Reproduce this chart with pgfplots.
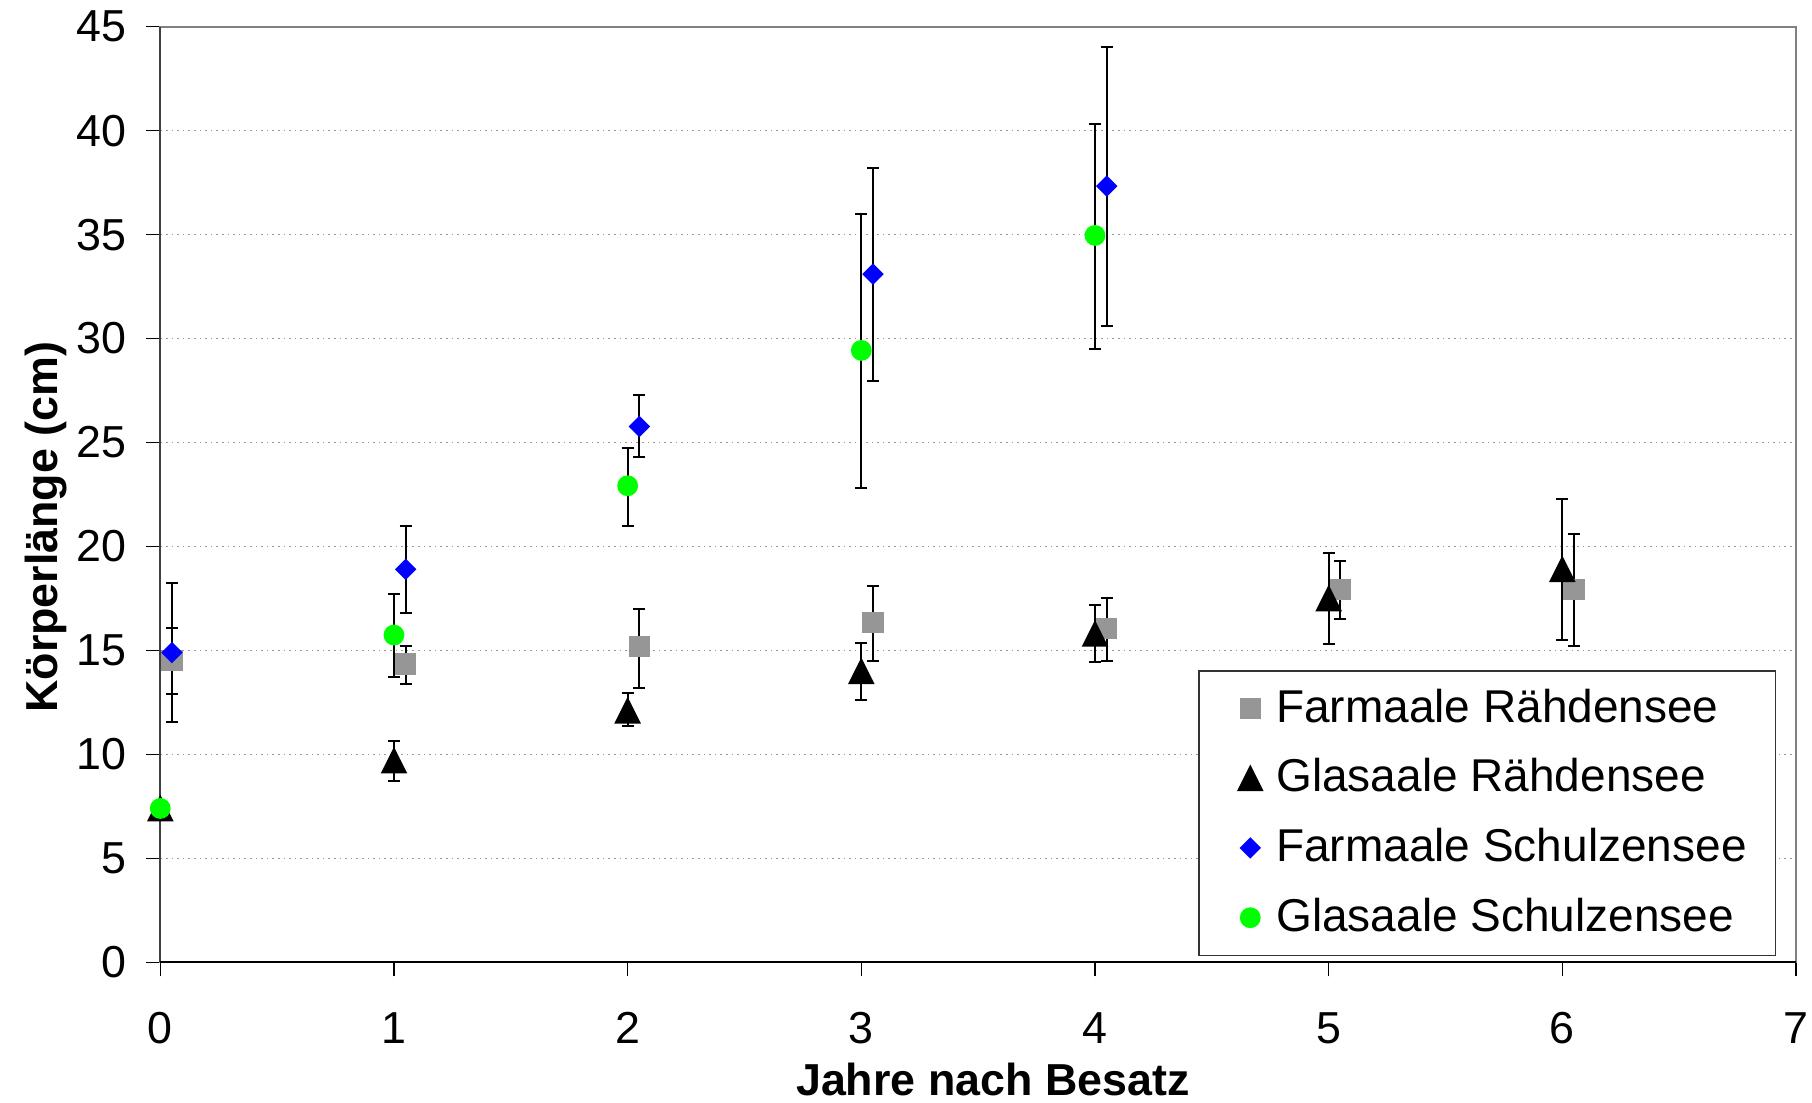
\documentclass[border=0pt]{standalone}
\usepackage{pgfplots}
\pgfplotsset{compat=1.18}
\usepackage{pgfplotstable}
\usepackage{fontspec}
\setmainfont{Liberation Sans}

\definecolor{fgray}{RGB}{150,150,150}
\definecolor{fblue}{RGB}{0,0,255}
\definecolor{fgreen}{RGB}{0,255,0}

% Excel-like marks: triangle and diamond centred on their box
\pgfdeclareplotmark{xtri}{%
  \pgfpathmoveto{\pgfqpoint{0pt}{\pgfplotmarksize}}%
  \pgfpathlineto{\pgfqpoint{\pgfplotmarksize}{-\pgfplotmarksize}}%
  \pgfpathlineto{\pgfqpoint{-\pgfplotmarksize}{-\pgfplotmarksize}}%
  \pgfpathclose\pgfusepathqfillstroke}
\pgfdeclareplotmark{xdia}{%
  \pgfpathmoveto{\pgfqpoint{0pt}{\pgfplotmarksize}}%
  \pgfpathlineto{\pgfqpoint{\pgfplotmarksize}{0pt}}%
  \pgfpathlineto{\pgfqpoint{0pt}{-\pgfplotmarksize}}%
  \pgfpathlineto{\pgfqpoint{-\pgfplotmarksize}{0pt}}%
  \pgfpathclose\pgfusepathqfillstroke}

% x, mean, upper and lower end of error bar
\pgfplotstableread{
x     y      hi     lo
0.05  14.5   16.1   12.9
1.05  14.35  15.2   13.4
2.05  15.2   17.0   13.2
3.05  16.35  18.1   14.5
4.05  16.05  17.5   14.5
5.05  17.95  19.3   16.5
6.05  17.95  20.6   15.2
}\farmR
\pgfplotstableread{
x  y      hi     lo
0  7.4    7.4    7.4
1  9.7    10.65  8.7
2  12.1   12.95  11.35
3  14.0   15.37  12.6
4  15.8   17.17  14.42
5  17.5   19.7   15.3
6  18.9   22.28  15.5
}\glasR
\pgfplotstableread{
x     y      hi     lo
0.05  14.9   18.22  11.58
1.05  18.9   21.0   16.82
2.05  25.77  27.27  24.28
3.05  33.1   38.2   27.97
4.05  37.33  44.0   30.6
}\farmS
\pgfplotstableread{
x  y      hi     lo
0  7.4    7.4    7.4
1  15.74  17.73  13.72
2  22.92  24.76  20.99
3  29.43  36.0   22.8
4  34.96  40.31  29.48
}\glasS

\pgfplotsset{
  errb/.style={error bars/.cd, y dir=both, y explicit,
    error bar style={black, line width=0.5pt},
    error mark=-,
    error mark options={black, rotate=90, mark size=1.5pt, line width=0.5pt}},
}

\begin{document}
\begin{tikzpicture}
\begin{axis}[
  scale only axis,
  width=408.9pt, height=233.9pt,
  xmin=0, xmax=7, ymin=0, ymax=45,
  xtick={0,1,...,7}, ytick={0,5,...,45},
  xtick pos=bottom, ytick pos=left,
  tick align=outside, major tick length=3.5pt,
  tick style={black, line width=0.4pt},
  axis line style={draw=gray, line width=0.5pt},
  ymajorgrids,
  grid style={gray!80, line width=0.4pt, densely dotted},
  /pgf/number format/assume math mode=true,
  ticklabel style={font=\fontsize{11.2}{13}\selectfont},
  xticklabel style={yshift=-5.5pt},
  yticklabel style={xshift=-1.5pt},
  xlabel={Jahre nach Besatz},
  ylabel={Körperlänge (cm)},
  every axis x label/.style={at={(axis description cs:0.509,-0.1428)}, anchor=base,
    inner sep=0pt, font=\fontsize{11.2}{13}\selectfont\bfseries},
  every axis y label/.style={at={(axis description cs:-0.0631,0.465)}, rotate=90, anchor=base,
    inner sep=0pt, font=\fontsize{11.2}{13}\selectfont\bfseries},
  legend style={at={(0.988,0.3124)}, anchor=north east,
    draw=black!80, line width=0.4pt,
    font=\fontsize{11.5}{13.5}\selectfont,
    inner xsep=5.2pt, inner ysep=2.5pt, row sep=3.6pt},
  legend image code/.code={%
    \path[draw=none, fill=none] (-7.6pt,0pt) rectangle (4.5pt,0pt);
    \draw[#1] plot coordinates {(0pt,0pt)};},
  legend cell align=left,
  clip=false,
]
\addplot[only marks, mark=square*, mark size=2.45pt,
  mark options={fill=fgray, draw=fgray}, errb]
  table[x=x, y=y, y error plus expr=\thisrow{hi}-\thisrow{y},
        y error minus expr=\thisrow{y}-\thisrow{lo}] {\farmR};
\addlegendentry{Farmaale Rähdensee}
\addplot[only marks, mark=xtri, mark size=3pt,
  mark options={fill=black, draw=black}, errb]
  table[x=x, y=y, y error plus expr=\thisrow{hi}-\thisrow{y},
        y error minus expr=\thisrow{y}-\thisrow{lo}] {\glasR};
\addlegendentry{Glasaale Rähdensee}
\addplot[only marks, mark=xdia, mark size=2.4pt,
  mark options={fill=fblue, draw=fblue}, errb]
  table[x=x, y=y, y error plus expr=\thisrow{hi}-\thisrow{y},
        y error minus expr=\thisrow{y}-\thisrow{lo}] {\farmS};
\addlegendentry{Farmaale Schulzensee}
\addplot[only marks, mark=*, mark size=2.4pt,
  mark options={fill=fgreen, draw=fgreen}, errb]
  table[x=x, y=y, y error plus expr=\thisrow{hi}-\thisrow{y},
        y error minus expr=\thisrow{y}-\thisrow{lo}] {\glasS};
\addlegendentry{Glasaale Schulzensee}
% left and bottom axis lines are darker than the plot-area frame
\draw[black!75, line width=0.5pt] (rel axis cs:0,0) -- (rel axis cs:0,1);
\draw[black, line width=0.5pt] (rel axis cs:0,0) -- (rel axis cs:1,0);
% page extent of the original figure
\coordinate (bbsw) at (axis description cs:-0.098,-0.1493);
\coordinate (bbne) at (axis description cs:1.0098,1.0285);
\end{axis}
\pgfresetboundingbox
\path (bbsw) rectangle (bbne);
\end{tikzpicture}
\end{document}
